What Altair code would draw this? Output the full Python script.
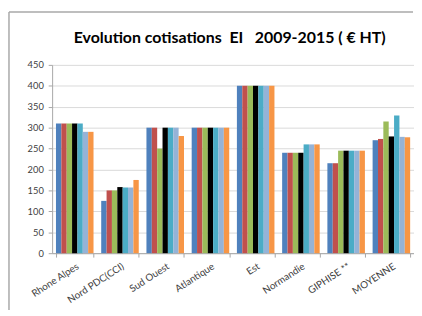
import altair as alt
import pandas as pd

categories = ["Rhone Alpes", "Nord PDC(CCI)", "Sud Ouest", "Atlantique", "Est",
              "Normandie", "GIPHISE **", "MOYENNE"]
years = ["2009", "2010", "2011", "2012", "2013", "2014", "2015"]
v2009 = [310, 125, 300, 300, 400, 240, 215, 270]
v2010 = [310, 150, 300, 300, 400, 240, 215, 273]
v2011 = [310, 150, 250, 300, 400, 240, 245, 315]
v2012 = [310, 158, 300, 300, 400, 240, 245, 279]
v2013 = [310, 157, 300, 300, 400, 260, 245, 329]
v2014 = [290, 157, 300, 300, 400, 260, 245, 278]
v2015 = [290, 175, 280, 300, 400, 260, 245, 277]
colors = ["#4F81BD", "#C0504D", "#9BBB59", "#000000", "#4BACC6", "#95B3D7", "#F79646"]
title_text = "Evolution\u00a0cotisations\u00a0\u00a0EI\u00a0\u00a0\u00a02009-2015\u00a0(\u00a0€\u00a0HT)"

series = [v2009, v2010, v2011, v2012, v2013, v2014, v2015]
rows = []
for yr, vals in zip(years, series):
    for c, v in zip(categories, vals):
        rows.append({"cat": c, "year": yr, "value": v})
df = pd.DataFrame(rows)

FONT = "Lato"

bars = alt.Chart(df).mark_bar(strokeWidth=0).encode(
    x=alt.X("cat:N", sort=categories, title=None,
            scale=alt.Scale(paddingInner=0.17, paddingOuter=0.085),
            axis=alt.Axis(labelAngle=-33, labelFontSize=10, labelColor="#404040",
                          labelFont=FONT, tickBand="extent", tickSize=4,
                          tickColor="#a6a6a6", domainColor="#a6a6a6",
                          labelPadding=4, grid=False)),
    xOffset=alt.XOffset("year:N", sort=years,
                        scale=alt.Scale(paddingInner=0, paddingOuter=0)),
    y=alt.Y("value:Q", title=None, scale=alt.Scale(domain=[0, 450], nice=False),
            axis=alt.Axis(values=list(range(0, 451, 50)), labelFontSize=9.5,
                          labelColor="#404040", labelFont=FONT, tickSize=4,
                          tickColor="#a6a6a6", domainColor="#a6a6a6",
                          gridColor="#d9d9d9", labelPadding=5,
                          minExtent=44, maxExtent=44)),
    color=alt.Color("year:N", scale=alt.Scale(domain=years, range=colors), legend=None),
)

single = alt.Chart(pd.DataFrame({"k": [0]}))
top_line = single.mark_rule(color="#a8a8a8", strokeWidth=1.5).encode(
    x=alt.value(-44), x2=alt.value(368), y=alt.value(-54))
left_line = single.mark_rule(color="#a8a8a8", strokeWidth=1.5).encode(
    x=alt.value(-44), y=alt.value(-54), y2=alt.value(250))
title = single.mark_text(text=title_text, fontSize=16.2, font=FONT, fontWeight="bold",
                         color="#000000", align="center", baseline="middle").encode(
    x=alt.value(181), y=alt.value(-27))

chart = alt.layer(bars, top_line, left_line, title).properties(
    width=369, height=192, padding=0,
).configure_view(stroke=None)

chart.save("out.html", embed_options={"renderer": "svg", "actions": False})
